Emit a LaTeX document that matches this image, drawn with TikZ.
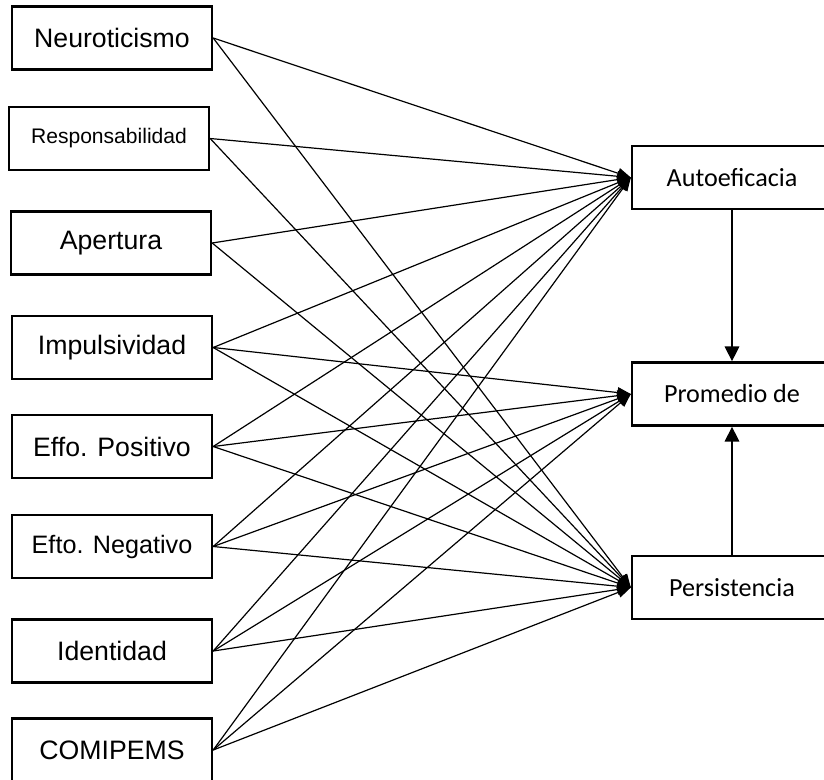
\documentclass[tikz,border=0pt]{standalone}
\usepackage{fontspec}
\setmainfont{Liberation Sans}
\newfontfamily\calib{Carlito}
\usetikzlibrary{arrows.meta}
\begin{document}
\begin{tikzpicture}[x=0.75pt,y=-0.75pt,
 lbox/.style={draw,line width=1.8pt,minimum width=150pt,minimum height=47.5pt,inner sep=0pt,font=\fontsize{20}{22}\selectfont},
 rbox/.style={draw,line width=1.8pt,minimum width=150pt,minimum height=47.5pt,inner sep=0pt,font=\calib\fontsize{19.6}{22}\selectfont},
 link/.style={line width=0.9pt,-{Triangle[length=10pt,width=8pt]}},
 vlink/.style={line width=0.9pt,-{Triangle[length=11pt,width=11pt]}}]
\useasboundingbox (0,0) rectangle (824,779);
\clip (0,0) rectangle (824,779);
\node[lbox] (neu) at (112,38) {Neuroticismo};
\node[lbox,font=\fontsize{15.8}{18}\selectfont] (res) at (109,138.5) {Responsabilidad};
\node[lbox] (ape) at (111,243) {Apertura};
\node[lbox] (imp) at (112,347.5) {Impulsividad};
\node[lbox] (effp) at (112,446.5) {Effo. Positivo};
\node[lbox,font=\fontsize{18.9}{21}\selectfont] (eftn) at (112,546.5) {Efto. Negativo};
\node[lbox] (ide) at (112,651) {Identidad};
\node[lbox] (com) at (112,750) {COMIPEMS};
\node[rbox] (aut) at (732,177.5) {Autoeficacia};
\node[rbox] (pro) at (732,394) {Promedio de};
\node[rbox] (per) at (732,587.5) {Persistencia};
\foreach \s in {neu,res,ape,imp,effp,eftn,ide,com}{
  \draw[link] (\s.east) -- (aut.west);
  \draw[link] (\s.east) -- (per.west);
}
\foreach \s in {imp,effp,eftn,ide,com}{
  \draw[link] (\s.east) -- (pro.west);
}
\draw[vlink] (aut.south) -- (pro.north);
\draw[vlink] (per.north) -- (pro.south);
\end{tikzpicture}
\end{document}
